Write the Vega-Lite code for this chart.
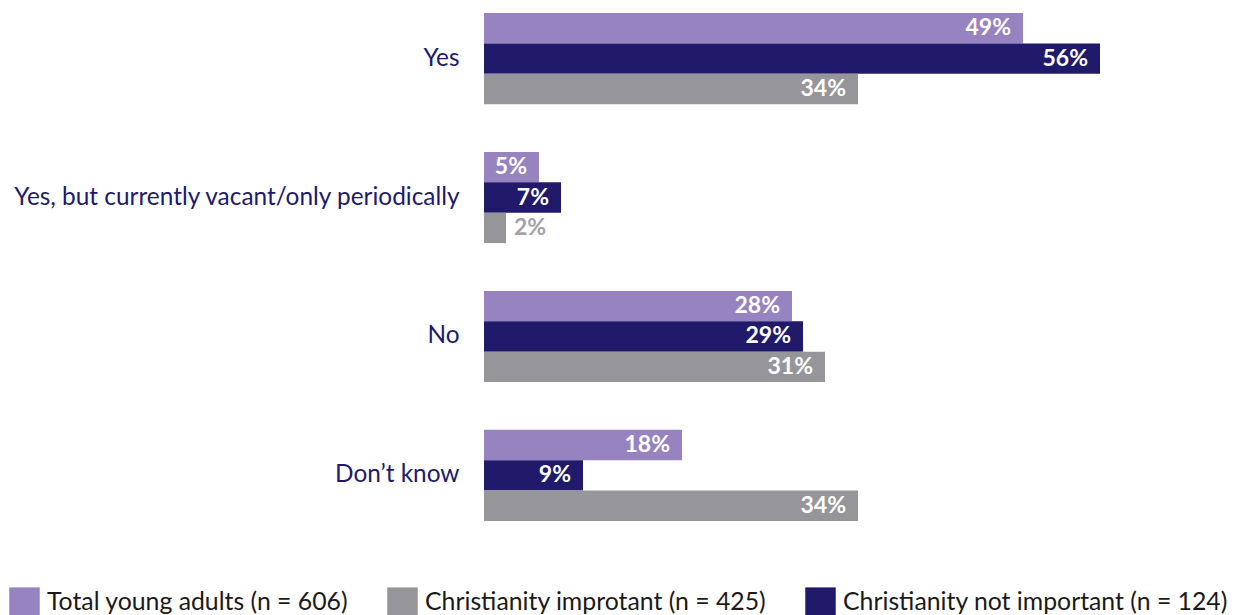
{
  "$schema": "https://vega.github.io/schema/vega-lite/v6.json",
  "width": 750,
  "height": 508,
  "autosize": {"type": "none"},
  "padding": {"left": 484, "top": 13, "right": 0, "bottom": 94},
  "config": {"view": {"stroke": null}, "font": "Lato"},
  "data": {
    "values": [
      {"answer": "Yes", "series": "Total young adults (n = 606)", "pct": 0.49},
      {"answer": "Yes", "series": "Christianity not important (n = 124)", "pct": 0.56},
      {"answer": "Yes", "series": "Christianity improtant (n = 425)", "pct": 0.34},
      {"answer": "Yes, but currently vacant/only periodically", "series": "Total young adults (n = 606)", "pct": 0.05},
      {"answer": "Yes, but currently vacant/only periodically", "series": "Christianity not important (n = 124)", "pct": 0.07},
      {"answer": "Yes, but currently vacant/only periodically", "series": "Christianity improtant (n = 425)", "pct": 0.02},
      {"answer": "No", "series": "Total young adults (n = 606)", "pct": 0.28},
      {"answer": "No", "series": "Christianity not important (n = 124)", "pct": 0.29},
      {"answer": "No", "series": "Christianity improtant (n = 425)", "pct": 0.31},
      {"answer": "Don’t know", "series": "Total young adults (n = 606)", "pct": 0.18},
      {"answer": "Don’t know", "series": "Christianity not important (n = 124)", "pct": 0.09},
      {"answer": "Don’t know", "series": "Christianity improtant (n = 425)", "pct": 0.34}
    ]
  },
  "encoding": {
    "y": {
      "field": "answer",
      "type": "nominal",
      "sort": ["Yes", "Yes, but currently vacant/only periodically", "No", "Don’t know"],
      "scale": {"paddingInner": 0.344, "paddingOuter": 0},
      "axis": {"title": null, "domain": false, "ticks": false, "labelFontSize": 24.4, "labelColor": "#211a6b", "labelPadding": 25, "labelFont": "Lato", "labelLimit": 0}
    },
    "yOffset": {
      "field": "series",
      "type": "nominal",
      "sort": ["Total young adults (n = 606)", "Christianity not important (n = 124)", "Christianity improtant (n = 425)"],
      "scale": {"paddingInner": 0, "paddingOuter": 0}
    },
    "x": {
      "field": "pct",
      "type": "quantitative",
      "scale": {"domain": [0, 0.6818], "nice": false, "zero": true},
      "axis": null
    }
  },
  "layer": [
    {
      "mark": {"type": "bar"},
      "encoding": {
        "color": {
          "field": "series",
          "type": "nominal",
          "scale": {
            "domain": ["Total young adults (n = 606)", "Christianity improtant (n = 425)", "Christianity not important (n = 124)"],
            "range": ["#9683bf", "#96969a", "#211a6b"]
          },
          "legend": {
            "orient": "none",
            "legendX": -475,
            "legendY": 574,
            "direction": "horizontal",
            "title": null,
            "symbolType": "square",
            "symbolSize": 930,
            "symbolStrokeWidth": 0,
            "symbolOpacity": 1,
            "labelFontSize": 24.8,
            "labelColor": "#1a1a1a",
            "labelFont": "Lato",
            "labelLimit": 600,
            "labelOffset": 7,
            "columnPadding": 38
          }
        }
      }
    },
    {
      "transform": [{"filter": "datum.pct >= 0.03"}],
      "mark": {"type": "text", "align": "right", "baseline": "middle", "dx": -12, "fontWeight": "bold", "fontSize": 23, "color": "white", "font": "Lato"},
      "encoding": {"text": {"field": "pct", "type": "quantitative", "format": ".0%"}}
    },
    {
      "transform": [{"filter": "datum.pct < 0.03"}],
      "mark": {"type": "text", "align": "left", "baseline": "middle", "dx": 8, "fontWeight": "bold", "fontSize": 23, "color": "#a3a3a6", "font": "Lato"},
      "encoding": {"text": {"field": "pct", "type": "quantitative", "format": ".0%"}}
    }
  ]
}
